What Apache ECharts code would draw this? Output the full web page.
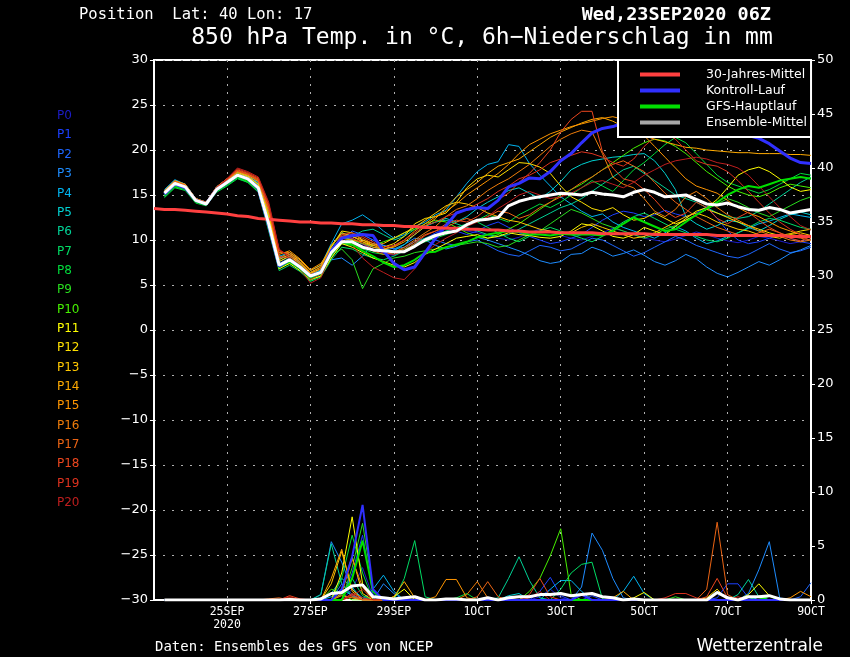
<!DOCTYPE html>
<html>
<head>
<meta charset="utf-8">
<script src="https://cdn.jsdelivr.net/npm/echarts@6.0.0/dist/echarts.min.js"></script>
<style>
  html, body { margin: 0; padding: 0; background: #000; }
  #chart { width: 850px; height: 657px; }
</style>
</head>
<body>
<div id="chart"></div>
<script>
// forecast steps: 6-hourly from 23SEP2020 06Z (index 0) to 9OCT 00Z (index 63)
const tickIdx = [7, 15, 23, 31, 39, 47, 55, 63];
const tickLabels = ['25SEP\n2020', '27SEP', '29SEP', '1OCT', '3OCT', '5OCT', '7OCT', '9OCT'];
const memberNames = ['P0','P1','P2','P3','P4','P5','P6','P7','P8','P9','P10','P11','P12','P13','P14','P15','P16','P17','P18','P19','P20'];
const memberColors = ['#1c1cc8','#1c40ff','#1e66ff','#1e8cff','#00b4f0','#00d0d0','#00d296','#00dc64','#00dc3c','#28dc1e','#46f000',
  '#ffff00','#ffe000','#ffc800','#ffaa00','#ff9600','#f07d0a','#eb6414','#eb461e','#dc321e','#be1e1e'];

// 30-Jahres-Mittel, index 0..63
const climate = [13.5,13.4,13.4,13.3,13.2,13.1,13.0,12.9,12.7,12.6,12.4,12.3,12.2,12.1,12.0,12.0,11.9,11.9,11.8,11.8,
  11.7,11.7,11.6,11.6,11.5,11.5,11.4,11.4,11.3,11.3,11.2,11.2,11.1,11.1,11.0,11.0,10.9,10.9,10.9,10.8,
  10.8,10.8,10.8,10.7,10.7,10.7,10.7,10.7,10.6,10.6,10.6,10.6,10.6,10.6,10.5,10.5,10.5,10.5,10.5,10.5,10.5,10.4,10.4,10.4];

// 850 hPa temperature, index 1..63
const ensMean = [15.2,16.3,15.9,14.4,14.0,15.6,16.4,17.2,16.8,15.8,11.8,7.2,7.8,7.0,6.0,6.4,8.6,9.8,9.8,9.2,
  8.9,8.8,8.7,8.7,9.3,10.0,10.5,10.8,11.0,11.7,12.2,12.3,12.5,13.8,14.3,14.6,14.8,15.0,15.2,15.1,
  15.0,15.3,15.1,15.0,14.8,15.3,15.6,15.3,14.8,14.9,15.0,14.5,14.0,13.9,14.1,13.7,13.4,13.3,13.6,13.4,13.0,13.2,13.4];
const control = [15.1,16.2,15.8,14.4,14.0,15.6,16.4,17.2,16.8,15.7,11.6,7.1,7.8,7.0,6.0,6.4,8.8,10.2,
  10.5,10.6,10.5,8.8,7.4,6.7,7.0,8.6,10.2,11.6,13.0,13.4,13.6,13.5,14.4,15.9,16.3,16.9,16.8,17.6,
  18.8,19.6,20.8,21.9,22.4,22.6,23.0,23.4,23.6,23.8,23.5,23.6,23.2,22.8,22.9,22.5,22.2,21.8,21.6,21.3,20.7,19.9,19.1,18.6,18.5];
const oper = [15.0,16.0,15.7,14.3,13.9,15.5,16.3,17.1,16.6,15.6,11.4,7.0,7.6,6.8,5.8,6.3,8.4,9.8,
  9.5,8.8,8.2,7.5,7.0,7.2,7.8,8.6,8.7,9.2,9.5,9.8,10.3,10.6,10.8,11.0,10.9,10.6,10.6,10.5,
  10.7,10.6,10.6,10.6,10.5,11.0,11.8,12.5,12.0,11.5,11.0,11.2,12.0,12.8,13.5,14.2,15.0,15.6,16.0,15.8,16.2,16.6,16.8,17.0,16.8];

const p0 = [15.0,16.1,15.8,14.3,13.9,15.5,16.3,17.0,16.6,15.5,11.2,6.8,7.5,6.6,5.6,6.2,8.2,9.6,
  10.2,9.5,9.0,8.5,8.3,8.8,9.5,10.2,10.8,11.0,11.3,11.0,10.8,10.5,10.2,10.0,10.3,10.8,11.2,11.0,
  10.5,10.2,10.0,10.4,10.8,11.3,11.0,10.6,10.2,10.0,9.8,10.1,10.5,10.9,10.6,10.2,9.9,9.7,10.0,10.4,10.2,9.9,9.6,9.8,10.1];
const p1 = [15.3,16.4,16.0,14.5,14.1,15.7,16.5,17.3,16.9,16.0,12.2,7.4,8.0,7.2,6.2,6.8,8.8,10.2,
  10.2,10.6,10.0,9.4,9.0,8.6,9.2,10.0,10.8,11.4,11.0,10.6,11.0,11.6,12.0,11.4,10.8,10.4,10.0,9.6,
  9.8,10.2,10.6,11.4,12.2,12.8,13.2,13.0,12.6,12.8,13.3,12.9,12.6,13.0,13.7,12.4,11.0,10.0,9.6,9.8,10.2,10.6,10.2,9.8,9.6];
const p2 = [15.1,16.2,15.9,14.4,14.0,15.6,16.4,17.1,16.7,15.7,11.6,7.0,7.6,6.9,5.9,6.4,8.5,10.0,
  11.0,10.6,10.0,9.4,9.0,9.2,9.8,10.2,10.0,9.6,9.4,9.8,10.0,9.4,8.8,8.4,8.2,8.8,9.4,9.2,
  8.8,9.0,9.6,10.2,10.0,9.4,8.8,8.2,8.6,9.2,9.8,10.4,10.0,9.4,9.0,8.6,8.2,8.0,8.4,9.0,9.6,9.0,8.6,8.8,9.2];
const p3 = [15.5,16.6,16.2,14.6,14.2,15.9,16.8,17.6,17.2,16.4,13.0,7.9,8.4,7.5,6.4,6.6,7.8,8.0,
  7.2,8.2,9.6,9.4,9.0,9.5,10.2,10.0,9.4,9.0,9.3,9.8,10.3,10.0,9.6,9.2,8.8,8.3,7.7,7.4,
  7.6,8.4,8.5,9.2,8.8,8.2,8.5,8.9,8.3,7.6,7.2,7.7,8.4,7.9,7.0,6.3,5.9,6.4,7.0,7.6,7.2,7.8,8.5,8.9,9.4];
const p4 = [15.6,16.7,16.2,14.6,14.2,15.8,16.7,17.5,17.1,16.3,12.8,8.2,8.6,7.8,6.6,7.2,9.6,11.8,
  12.2,12.8,12.0,11.0,10.2,10.6,11.5,12.0,12.8,13.3,14.8,16.3,17.6,18.4,18.7,20.6,20.4,18.5,17.2,16.0,
  14.8,14.0,13.2,12.6,12.9,12.0,11.4,11.0,10.6,10.2,10.8,11.5,11.0,10.2,9.6,9.9,10.4,10.8,11.3,11.8,12.1,12.5,12.9,12.7,12.5];
const p5 = [15.3,16.5,16.0,14.5,14.1,15.7,16.6,17.3,17.0,16.1,12.4,7.6,8.2,7.4,6.2,6.7,9.0,10.4,
  10.0,9.6,9.2,9.0,8.8,9.5,10.6,11.5,12.0,12.4,12.0,12.6,13.5,14.2,14.8,15.5,15.8,15.2,14.6,15.4,
  16.5,17.8,18.4,18.8,19.0,19.2,19.3,19.5,19.6,18.8,17.4,15.6,12.6,11.8,11.2,11.6,12.2,12.0,11.4,11.0,11.6,12.3,12.8,13.1,12.8];
const p6 = [15.0,16.1,15.7,14.3,13.9,15.5,16.3,17.1,16.6,15.6,11.4,6.9,7.7,7.2,6.1,6.6,9.2,10.8,
  10.4,11.0,11.2,10.6,10.0,10.4,11.2,11.6,12.0,12.2,11.8,11.4,11.0,10.6,10.4,10.6,11.2,11.8,12.4,13.0,
  13.6,14.0,14.6,15.4,16.2,17.0,17.8,18.2,17.4,16.6,15.8,15.0,14.6,14.2,13.6,13.0,12.6,12.4,12.6,13.2,14.0,14.8,15.6,16.4,17.0];
const p7 = [14.8,15.9,15.6,14.2,13.9,15.4,16.1,16.9,16.4,15.3,11.0,6.6,7.2,6.5,5.4,5.9,7.8,9.2,
  9.0,8.4,8.0,7.8,8.2,8.8,9.6,10.2,10.6,11.0,11.4,11.8,12.0,11.4,10.8,10.2,9.8,10.4,11.0,11.4,
  11.0,10.6,10.2,9.8,10.4,11.2,12.0,12.6,13.0,12.4,11.8,11.2,10.8,10.4,10.0,9.8,10.2,10.8,11.4,12.0,12.4,12.2,11.8,11.4,11.2];
const p8 = [14.7,15.8,15.5,14.1,13.8,15.3,16.0,16.8,16.4,15.4,11.3,7.1,7.6,6.8,5.5,6.0,8.0,9.6,
  9.4,9.0,8.6,8.4,8.6,9.0,9.4,9.8,10.2,10.6,11.0,11.6,12.2,12.8,12.4,12.0,12.8,13.4,14.0,13.6,
  14.2,15.0,15.8,16.6,16.0,15.4,16.6,17.8,18.6,19.6,20.6,21.4,20.8,19.6,18.4,17.2,16.4,16.0,15.6,15.2,15.6,16.2,16.8,17.4,17.2];
const p9 = [14.9,16.0,15.7,14.3,13.9,15.5,16.2,17.0,16.5,15.5,11.5,7.0,7.4,6.9,5.8,6.3,8.3,9.0,
  7.8,4.6,6.8,7.4,8.0,8.2,8.6,8.8,9.0,9.2,9.4,9.6,9.8,9.6,9.2,9.4,10.0,10.6,11.0,11.8,
  12.6,13.4,13.0,12.4,11.8,11.4,11.0,10.6,10.2,10.6,11.2,11.6,12.2,12.8,13.4,14.0,14.6,14.2,13.6,13.0,12.6,13.2,13.8,14.4,14.8];
const p10 = [15.1,16.2,15.8,14.4,14.0,15.6,16.4,17.2,16.8,15.9,12.0,7.3,8.0,7.3,6.3,6.8,8.8,10.2,
  10.0,9.6,9.4,9.8,10.2,10.8,11.2,11.8,12.2,12.0,11.4,10.8,10.4,10.2,10.6,11.2,11.8,12.6,13.4,14.2,
  15.0,15.6,16.2,17.0,17.8,18.6,19.4,20.2,20.8,21.2,21.0,20.4,19.6,18.6,17.6,16.8,16.0,15.4,15.0,14.8,15.2,15.8,16.2,16.0,15.8];
const p11 = [15.2,16.3,15.9,14.4,14.0,15.6,16.4,17.2,16.8,15.8,11.6,6.8,7.4,6.6,5.6,6.0,8.0,9.6,
  9.2,8.6,8.0,7.6,7.2,7.0,7.5,8.4,9.0,9.6,10.2,10.4,10.6,10.2,10.4,10.8,10.6,10.5,10.3,10.2,
  10.4,11.0,11.8,11.6,11.0,10.4,10.2,10.6,11.4,11.0,10.6,11.5,12.4,13.2,13.6,14.5,15.8,17.2,17.8,18.1,17.6,16.8,15.9,15.4,15.6];
const p12 = [15.4,16.5,16.1,14.5,14.1,15.8,16.6,17.4,17.0,16.2,12.6,7.6,8.2,7.4,6.3,6.8,9.2,11.0,
  10.8,10.0,9.6,9.2,9.6,10.4,11.8,12.4,12.6,13.0,14.2,15.8,16.8,17.2,17.0,17.8,18.6,18.5,18.1,17.4,
  16.0,14.8,14.2,13.5,13.2,13.6,12.8,12.2,12.4,13.0,12.4,11.8,12.2,12.8,13.4,13.0,12.5,12.0,11.6,11.2,10.8,10.5,10.7,11.0,11.2];
const p13 = [15.3,16.4,16.0,14.5,14.1,15.7,16.6,17.5,17.1,16.2,12.8,7.8,8.4,7.6,6.4,7.0,9.4,10.8,
  10.4,9.8,9.4,9.6,10.2,10.8,11.4,12.2,13.0,13.8,14.2,14.0,13.6,13.0,12.6,12.2,12.0,11.6,11.2,11.0,
  10.6,10.8,11.4,11.8,11.4,11.0,10.6,10.2,10.4,10.8,11.4,12.0,12.6,13.0,12.6,12.0,11.6,11.2,11.0,10.6,10.4,10.2,10.6,10.8,10.5];
const p14 = [15.4,16.5,16.1,14.6,14.1,15.8,16.7,17.6,17.2,16.5,13.2,8.0,8.6,7.8,6.6,7.2,9.4,10.6,
  10.4,10.0,9.4,9.0,9.2,9.8,10.6,11.5,12.4,13.6,14.8,15.6,16.4,17.4,18.2,18.6,19.0,19.8,20.6,21.4,
  22.0,22.5,23.0,23.4,23.6,23.2,22.6,22.0,21.6,21.2,20.9,20.6,20.3,20.2,20.0,19.9,19.8,19.7,19.7,19.6,19.6,19.6,19.5,19.5,19.4];
const p15 = [15.5,16.6,16.2,14.6,14.2,15.9,16.8,17.7,17.3,16.6,13.4,8.4,8.8,7.9,6.7,7.4,9.0,10.2,
  10.0,9.8,9.2,9.0,9.3,10.0,11.0,11.8,12.6,13.2,14.0,15.0,15.8,16.6,17.4,18.4,19.6,20.6,21.2,21.8,
  22.2,22.6,22.9,23.2,23.5,23.7,23.4,22.6,21.6,20.4,19.2,18.0,16.8,16.0,15.6,15.2,14.4,13.6,13.0,12.6,12.0,11.4,11.0,10.6,10.2];
const p16 = [15.3,16.4,16.1,14.5,14.1,15.8,16.7,17.6,17.3,16.7,13.6,8.6,8.6,7.6,6.4,7.0,8.8,9.8,
  9.8,9.2,8.8,8.4,8.6,9.2,10.0,10.8,11.5,12.6,13.4,13.8,14.6,15.5,16.2,16.8,17.6,18.4,19.4,20.4,
  21.2,21.8,22.2,22.0,19.6,17.0,16.2,15.8,14.6,13.2,12.6,13.4,14.8,15.4,14.6,13.6,12.8,12.2,11.6,11.0,10.6,10.4,10.0,9.8,10.0];
const p17 = [15.4,16.5,16.1,14.6,14.2,15.9,16.8,17.8,17.4,16.8,13.8,8.8,8.4,7.4,6.2,6.8,8.6,10.4,
  10.6,10.2,9.6,9.0,8.6,9.0,9.8,10.6,11.0,11.4,12.0,12.4,12.0,12.6,13.2,13.0,12.4,12.8,13.6,14.2,
  14.8,15.6,16.4,17.0,17.8,18.4,18.8,18.2,17.6,16.4,15.2,14.2,13.4,12.6,12.0,11.4,11.0,10.6,10.4,10.8,11.2,10.8,10.4,10.2,10.0];
const p18 = [15.2,16.3,16.0,14.5,14.1,15.8,16.7,17.7,17.3,16.6,13.5,8.2,8.0,7.0,5.8,6.4,8.6,10.4,
  10.2,9.6,9.0,8.6,8.4,8.8,9.6,10.5,11.0,11.8,12.2,12.0,12.6,13.5,14.5,15.2,16.4,17.4,18.6,20.0,
  22.0,23.4,24.3,24.3,19.8,18.0,16.8,16.5,15.6,14.5,13.2,12.5,13.0,14.2,13.6,12.4,11.8,12.5,13.1,12.2,11.4,10.8,10.2,9.9,10.4];
const p19 = [15.3,16.4,16.0,14.5,14.1,15.8,16.8,17.9,17.5,16.9,14.0,8.9,8.2,7.2,5.6,6.2,8.8,10.6,
  10.8,10.4,9.8,9.2,9.4,10.0,10.8,11.6,12.0,12.6,13.0,13.4,14.0,14.6,15.4,16.0,16.8,17.2,17.8,18.6,
  19.0,19.4,19.8,19.6,19.2,18.6,18.2,19.0,20.4,21.4,21.9,21.2,20.0,18.8,18.4,18.2,17.6,16.6,15.4,14.2,13.0,12.0,11.2,10.6,10.4];
const p20 = [15.2,16.3,16.0,14.5,14.1,15.7,16.8,18.0,17.6,17.0,14.2,9.0,8.0,6.8,5.2,5.8,8.4,10.0,
  9.5,8.0,7.0,6.4,5.8,5.6,6.8,8.5,9.5,10.2,10.8,11.5,12.0,12.6,13.5,14.2,15.0,15.4,15.0,14.6,
  14.8,15.2,15.8,16.4,16.6,16.2,15.8,16.4,17.2,17.8,18.4,18.8,19.0,19.2,19.0,18.6,18.4,18.0,17.2,16.0,14.8,13.6,12.6,11.6,11.1];

// 6h precipitation (mm), index 1..63
const rainMean = [0,0,0,0,0,0,0,0,0,0, 0,0,0.05,0,0,0.1,0.6,0.7,1.3,1.4, 0.3,0.2,0.1,0.2,0.3,0,0,0.1,0.1,0,
  0,0.2,0,0.2,0.3,0.3,0.5,0.5,0.6,0.4, 0.5,0.6,0.3,0.2,0,0.1,0,0,0,0, 0,0,0,0.7,0.2,0,0.3,0.3,0.4,0.1, 0,0,0];
const rainControl = [0,0,0,0,0,0,0,0,0,0, 0,0,0,0,0,0,0,1.0,4.0,8.8, 1.0,0,0,0,0,0,0,0,0,0,
  0,0,0,0,0,0,0,0,0,0, 0.5,0,0,0,0,0,0,0,0,0, 0,0,0,0,0,0,0,0,0,0, 0,0,0];
const rainOper = [0,0,0,0,0,0,0,0,0,0, 0,0,0,0,0,0,0,0,2.0,5.5, 0.8,0,0,0,0,0,0,0,0,0,
  0,0,0,0,0,0,0,0,0,0, 0,0,0,0,0,0,0,0,0,0, 0,0,0,0,0,0,0,0,0.4,0, 0,0,0];
const r0 = [0,0,0,0,0,0,0,0,0,0, 0,0,0,0,0,0,0,0,1.0,3.0, 0.3,0,0,0,0,0,0,0,0,0,
  0,0,0,0,0,0,0.3,1.0,0.2,0, 0,0,0,0,0,0,0,0,0,0, 0,0,0,0,0,0,0,0,0,0, 0,0,0];
const r1 = [0,0,0,0,0,0,0,0,0,0, 0,0,0,0,0,0,0,0,2.5,6.0, 0.5,0.1,0,0,0,0,0,0,0,0,
  0,0,0,0,0,0,0.8,2.1,0.4,0, 0,0.4,0,0,0,0,0,0,0,0, 0,0,0,0.2,1.5,1.5,0.2,0,0,0, 0,0,0];
const r2 = [0,0,0,0,0,0,0,0,0,0, 0,0,0,0,0,0,0,1.5,0.5,0, 0,0,0,0,0,0,0,0,0,0,
  0,0,0,0,0,0,0,0,0,0, 0,0,0,0,0,0,0,0,0,0, 0,0,0,0,0,0,0,0,0,0, 0,0.3,1.6];
const r3 = [0,0,0,0,0,0,0,0,0,0, 0,0,0,0,0,0.5,5.4,3.5,1.0,0.2, 0,1.5,0.6,0,0,0,0,0,0,0,
  0,0,0,0,0,0,0,0,0,0, 1.2,6.2,4.6,2.0,0.2,0,0,0,0,0, 0,0,0,0,0,0,0.6,2.8,5.4,0.2, 0,0,0];
const r4 = [0,0,0,0,0,0,0,0,0,0, 0,0,0,0,0,0,0.3,1.0,0.4,0, 1.0,2.3,0.8,0,0,0,0,0,0,0,
  0,0,0,0,0,0,0,1.0,1.8,1.8, 0.8,0,0,0,0.8,2.2,0.6,0,0,0, 0,0,0,0,0,0,0,0,0,0, 0,0,0];
const r5 = [0,0,0,0,0,0,0,0,0,0, 0,0,0,0,0,0.2,0.6,2.0,1.2,0, 0,0,0,0,0,0,0,0,0,0,
  0,0,0,0.4,0.6,0,0,0,0,0, 0,0,0,0,0,0,0,0,0,0, 0,0,0,0,0,0,0.4,0,0,0, 0,0,0];
const r6 = [0,0,0,0,0,0,0,0,0,0, 0,0,0,0,0,0.5,5.2,1.5,0.3,0, 0,0,0,0,0,0,0,0,0,0,
  0,0,0.2,2.0,4.0,1.8,0.2,0,0,0, 0,0,0,0,0,0,0,0,0,0, 0,0,0,0,0,0.5,1.9,0.3,0,0, 0,0,0];
const r7 = [0,0,0,0,0,0,0,0,0,0, 0,0,0,0,0,0,0,0.5,2.0,0.4, 0,0,0,2.0,5.5,0.3,0,0,0,0,
  0,0,0,0,0,0,0,0,1.0,2.5, 3.3,3.5,0.1,0,0,0,0,0,0,0, 0,0,0,0,0,0,0,0,0,0, 0,0,0];
const r8 = [0,0,0,0,0,0,0,0,0,0, 0,0,0,0,0,0,0,2.0,6.0,2.5, 0,0,0,0,0,0,0,0,0.2,0.6,
  0,0,0,0,0,0,0,0,0,0, 0,0,0,0,0,0,0,0,0,0, 0,0,0,0,0,0,0,0.4,0,0, 0,0,0];
const r9 = [0,0,0,0,0,0,0,0,0,0, 0,0,0,0,0,0,0,0,3.0,7.1, 1.0,0,0,0,0,0,0,0,0,0,
  0,0,0,0,0,0,0,0,0,0, 0,0,0,0,0,0,0,0,0,0.3, 0,0,0,0,0,0,0,0,0,0, 0,0,0];
const r10 = [0,0,0,0,0,0,0,0,0,0, 0,0,0,0,0,0,1.0,0.6,0,0, 0,0,0,0,0,0,0,0,0,0,
  0,0,0,0,0,0.8,2.0,4.1,6.6,0.5, 0,0,0,0,0,0,0,0,0,0, 0,0,0,0,0,0,0,0,0,0, 0,0,0];
const r11 = [0,0,0,0,0,0,0,0,0,0, 0,0,0,0,0,0,0,2.5,7.7,1.5, 0,0,0.3,1.0,0,0,0,0,0,0,
  0,0,0,0,0,0,0,0,0,0, 0,0,0,0,0,0.2,0.7,0,0,0, 0,0,0,0,0,0,0.5,1.5,0.4,0, 0,0,0];
const r12 = [0,0,0,0,0,0,0,0,0,0, 0,0,0,0,0,0,0,1.0,4.0,0.6, 0,0,0,0,0,0,0,0,0,0,
  0,0,0,0,0,0,0,0,0,0, 0,0,0,0,0,0,0,0,0,0, 0,0,0.2,1.0,0,0,0,0,0,0, 0,0,0];
const r13 = [0,0,0,0,0,0,0,0,0,0, 0,0,0,0,0,0,1.5,4.5,1.0,0, 0,0,0,0,0,0,0,0,0,0,
  0,0,0,0.2,0,0,0,0,0,0, 0,0,0,0,0,0,0,0,0,0, 0,0,0,0,0,0,0,0,0,0, 0,0,0];
const r14 = [0,0,0,0,0,0,0,0,0,0, 0,0,0,0,0,0,2.0,4.7,0.8,0, 0,0,0.3,1.7,0.2,0,0,0,0,0,
  0,0,0,0,0,0,0,0,0,0, 0,0,0,0.2,0.8,0,0,0,0,0, 0,0,0,0,0,0,0,0,0,0, 0,0,0];
const r15 = [0,0,0,0,0,0,0,0,0,0, 0,0,0.2,0,0,0,0,0.4,0.2,0, 0,0,0,0,0,0,0.3,1.9,1.9,0.2,
  0,0,0,0,0,0,0,0,0,0, 0,0,0,0,0,0,0,0,0,0, 0,0,0,0,0,0,0,0,0,0, 0.2,0.8,0.3];
const r16 = [0,0,0,0,0,0,0,0,0,0, 0,0,0,0,0,0,0,0.6,3.8,1.2, 0,0,0,0,0,0,0,0,0,0.5,
  1.7,0.2,0,0,0,0,0,0,0,0, 0,0,0,0,0,0,0,0,0,0, 0,0,0,0,0,0,0,0,0,0, 0,0,0];
const r17 = [0,0,0,0,0,0,0,0,0,0, 0.1,0.2,0,0,0,0,0,0,0.3,0, 0,0,0,0,0,0,0,0,0,0,
  0.3,1.7,0.3,0,0,0,0,0,0,0, 0,0,0,0,0,0,0,0,0,0, 0,0,1.0,7.2,0.5,0,0,0,0,0, 0,0,0];
const r18 = [0,0,0,0,0,0,0,0,0,0, 0,0,0.4,0.1,0,0,0,0,0.5,0, 0,0,0,0,0,0,0,0,0,0,
  0,0,0,0,0,0.5,2.0,0.3,0,0, 0,0,0,0,0,0,0,0,0,0, 0,0,0.3,2.0,0.2,0,0,0,0,0, 0,0,0];
const r19 = [0,0,0,0,0,0,0,0,0,0, 0,0,0,0,0,0,0,0,0.6,0.2, 0,0,0,0,0,0,0,0,0,0,
  0,0,0,0,0,0,0,0,0,0, 0,0,0,0,0,0,0,0,0.2,0.6, 0.6,0.2,0,0,0,0.3,0,0,0,0, 0,0,0];
const r20 = [0,0,0,0,0,0,0,0,0,0, 0,0,0.3,0,0,0,0,0,0.4,1.0, 0,0,0,0,0,0,0,0,0,0,
  0,0,0,0,0,0.2,0.8,0,0,0, 0,0,0,0,0,0,0,0,0,0, 0,0,0,0,0,0,0,0,0,0, 0,0,0];

const memberTemp = [p0,p1,p2,p3,p4,p5,p6,p7,p8,p9,p10,p11,p12,p13,p14,p15,p16,p17,p18,p19,p20];
const memberRain = [r0,r1,r2,r3,r4,r5,r6,r7,r8,r9,r10,r11,r12,r13,r14,r15,r16,r17,r18,r19,r20];

const steps = Array.from({ length: 64 }, (_, i) => i * 6);
const isTick = (i) => tickIdx.indexOf(i) >= 0;
const font = '"DejaVu Sans", sans-serif';
const mono = '"DejaVu Sans Mono", monospace';

function line(name, data, color, width, yAxisIndex) {
  return {
    name: name, type: 'line', yAxisIndex: yAxisIndex,
    data: data, symbol: 'none', silent: true,
    lineStyle: { color: color, width: width },
    itemStyle: { color: color }
  };
}

const series = [];
memberRain.forEach((d, i) => series.push(line(memberNames[i] + ' RR', [null].concat(d), memberColors[i], 1, 1)));
memberTemp.forEach((d, i) => series.push(line(memberNames[i], [null].concat(d), memberColors[i], 1, 0)));
series.push(line('GFS-Hauptlauf', [null].concat(oper), '#00e000', 2, 0));
series.push(line('GFS-Hauptlauf', [null].concat(rainOper), '#00e000', 2, 1));
series.push(line('Kontroll-Lauf', [null].concat(control), '#3030ff', 3, 0));
series.push(line('Kontroll-Lauf', [null].concat(rainControl), '#3030ff', 2, 1));
series.push(line('30-Jahres-Mittel', climate, '#ff4040', 3, 0));
series.push(line('Ensemble-Mittel', [null].concat(ensMean), '#ffffff', 3, 0));
series.push(line('Ensemble-Mittel', [null].concat(rainMean), '#ffffff', 3, 1));

// labels on the left side and titles
const graphics = memberNames.map((n, i) => ({
  type: 'text', x: 57, y: 116 + i * 19.35,
  style: { text: n, fill: memberColors[i], font: '12px ' + font, verticalAlign: 'middle' }
}));
graphics.push(
  { type: 'text', x: 79, y: 15, style: { text: 'Position  Lat: 40 Lon: 17', fill: '#fff', font: '15.5px ' + mono, verticalAlign: 'middle' } },
  { type: 'text', x: 771, y: 15, style: { text: 'Wed,23SEP2020 06Z', fill: '#fff', font: 'bold 18.5px ' + mono, align: 'right', verticalAlign: 'middle' } },
  { type: 'text', x: 482, y: 38, style: { text: '850 hPa Temp. in °C, 6h\u2212Niederschlag in mm', fill: '#fff', font: '23px ' + mono, align: 'center', verticalAlign: 'middle' } },
  { type: 'text', x: 155, y: 647, style: { text: 'Daten: Ensembles des GFS von NCEP', fill: '#fff', font: '14px ' + mono, verticalAlign: 'middle' } },
  { type: 'text', x: 823, y: 647, style: { text: 'Wetterzentrale', fill: '#fff', font: '17px ' + font, align: 'right', verticalAlign: 'middle' } }
);

const chart = echarts.init(document.getElementById('chart'));
chart.setOption({
  backgroundColor: '#000',
  animation: false,
  grid: { left: 154, right: 39, top: 60, bottom: 57, show: true, borderColor: '#fff', borderWidth: 2, backgroundColor: '#000' },
  legend: {
    data: [
      { name: '30-Jahres-Mittel' }, { name: 'Kontroll-Lauf' }, { name: 'GFS-Hauptlauf' },
      { name: 'Ensemble-Mittel', itemStyle: { color: '#a8a8a8' } }
    ],
    orient: 'vertical', left: 618, top: 60,
    backgroundColor: '#000', borderColor: '#fff', borderWidth: 2, borderRadius: 0,
    padding: [8, 4, 8, 22], itemGap: 3, itemWidth: 40, itemHeight: 4, icon: 'rect',
    selectedMode: false,
    textStyle: { color: '#fff', fontSize: 12.5, fontFamily: font, padding: [0, 0, 0, 21] }
  },
  xAxis: {
    type: 'category', data: steps, boundaryGap: false,
    axisLine: { onZero: false, lineStyle: { color: '#fff', width: 2 } },
    axisTick: { interval: isTick, length: 4, lineStyle: { color: '#fff' } },
    axisLabel: {
      interval: isTick, color: '#fff', fontSize: 11.5, fontFamily: mono, lineHeight: 13, margin: 6,
      formatter: (v, i) => tickLabels[tickIdx.indexOf(i)]
    },
    splitLine: { show: true, interval: isTick, lineStyle: { color: '#b0b0b0', type: [2, 6] } }
  },
  yAxis: [
    {
      type: 'value', min: -30, max: 30, interval: 5,
      axisLine: { show: true, onZero: false, lineStyle: { color: '#fff', width: 2 } },
      axisTick: { show: true, length: 4, lineStyle: { color: '#fff' } },
      axisLabel: { color: '#fff', fontSize: 13, fontFamily: font, margin: 6, formatter: (v) => String(v).replace('-', '\u2212') },
      splitLine: { lineStyle: { color: '#b0b0b0', type: [2, 7] } }
    },
    {
      type: 'value', min: 0, max: 50, interval: 5, position: 'right',
      axisLine: { show: true, onZero: false, lineStyle: { color: '#fff', width: 2 } },
      axisTick: { show: true, length: 4, lineStyle: { color: '#fff' } },
      axisLabel: { color: '#fff', fontSize: 13, fontFamily: font, margin: 6 },
      splitLine: { show: false }
    }
  ],
  graphic: graphics,
  series: series
});
</script>
</body>
</html>
